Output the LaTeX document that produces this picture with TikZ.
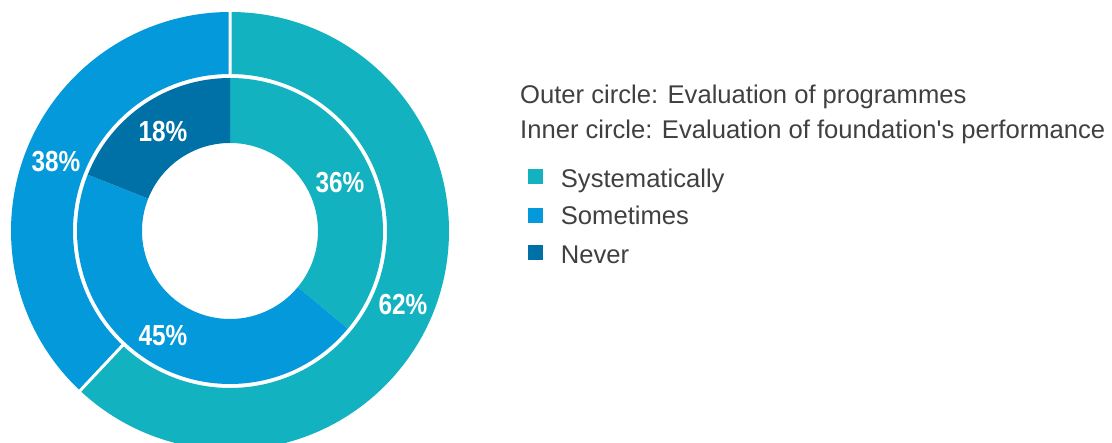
\documentclass[tikz,border=0pt]{standalone}
\usepackage{fontspec}
\usepackage{tikz}
\usepackage{xcolor}
\usetikzlibrary{calc, positioning}
\setmainfont{Liberation Sans}
\newfontfamily\pctfont[FakeStretch=0.84]{Liberation Sans}

\definecolor{systcol}{HTML}{13B2C0}
\definecolor{somecol}{HTML}{0399DA}
\definecolor{nevercol}{HTML}{0071A7}
\definecolor{legtext}{HTML}{404040}

\begin{document}
\begin{tikzpicture}[x=1pt, y=1pt,
        pct/.style={text=white, font=\pctfont\bfseries\fontsize{29}{29}\selectfont},
        legline/.style={anchor=base west, inner sep=0pt, text=legtext, font=\fontsize{25.6}{28}\selectfont},
        legbox/.style={minimum size=15pt, inner sep=0pt}]
                    \useasboundingbox (0, 0) rectangle (1112, 443);

                    \begin{scope}[shift={(230, 212)}]
                    % outer ring
                    \fill[systcol] (90:219) arc[start angle=90, end angle=-133.2, radius=219]
                    -- (-133.2:157) arc[start angle=-133.2, end angle=90, radius=157] -- cycle;
                    \fill[somecol] (-133.2:219) arc[start angle=-133.2, end angle=-270, radius=219]
                    -- (-270:157) arc[start angle=-270, end angle=-133.2, radius=157] -- cycle;
                    \draw[white, line width=3pt]
                    (90:155) -- (90:221)
                    (-133.2:155) -- (-133.2:221);

                    % inner ring
                    \fill[systcol] (90:153) arc[start angle=90, end angle=-39.6, radius=153]
                    -- (-39.6:88) arc[start angle=-39.6, end angle=90, radius=88] -- cycle;
                    \fill[somecol] (-39.6:153) arc[start angle=-39.6, end angle=-201.6, radius=153]
                    -- (-201.6:88) arc[start angle=-201.6, end angle=-39.6, radius=88] -- cycle;
                    \fill[nevercol] (158.4:153) arc[start angle=158.4, end angle=90, radius=153]
                    -- (90:88) arc[start angle=90, end angle=158.4, radius=88] -- cycle;
                    \end{scope}

                    \node[pct] (outsyst) at (403, 138) {62\%};
                    \node[pct] (outsome) at (56, 281) {38\%};
                    \node[pct] (insyst) at (340, 260) {36\%};
                    \node[pct] (insome) at (163, 107) {45\%};
                    \node[pct] (innever) at (163, 311) {18\%};

                    % legend
                    \node[legline] (outer) at (520, 339.7) {Outer circle: Evaluation of programmes};
                    \node[legline] (inner) at (520, 304.7) {Inner circle: Evaluation of foundation\textquotesingle s performance};

                    \node[legbox, fill=systcol] (bsyst) at (535, 266.2) {};
                    \node[legbox, fill=somecol] (bsome) at (535, 227.8) {};
                    \node[legbox, fill=nevercol] (bnever) at (535, 190) {};
                    \node[legline] (lsyst) at (560.7, 255.3) {Systematically};
                    \node[legline] (lsome) at (560.7, 218) {Sometimes};
                    \node[legline] (lnever) at (560.7, 179.7) {Never};
\end{tikzpicture}
\end{document}
